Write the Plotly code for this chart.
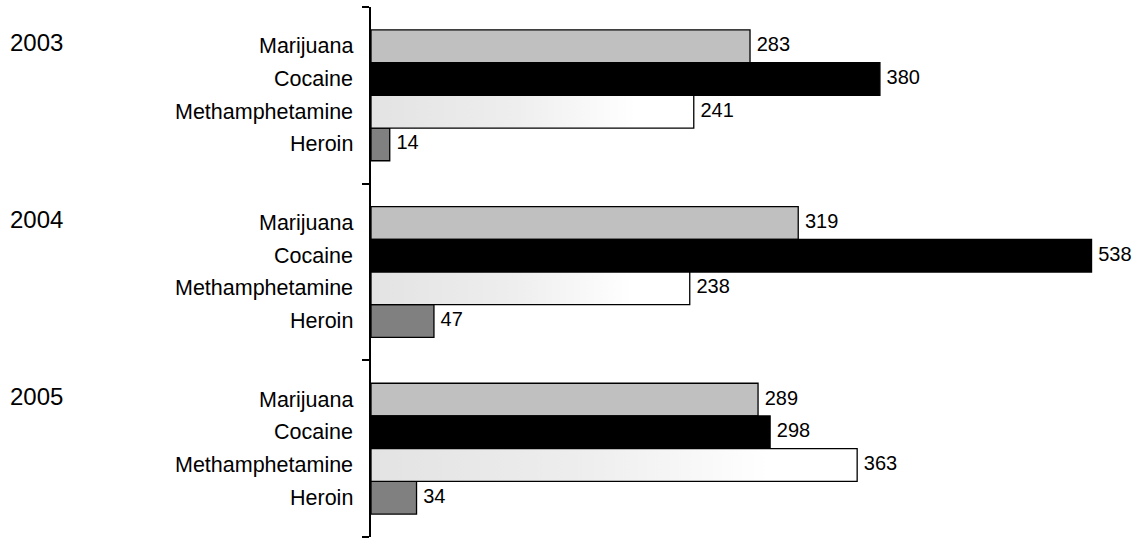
import plotly.graph_objects as go

years = ["2003", "2004", "2005"]
drugs = ["Marijuana", "Cocaine", "Methamphetamine", "Heroin"]
marijuana = [283, 319, 289]
cocaine = [380, 538, 298]
methamphetamine = [241, 238, 363]
heroin = [14, 47, 34]

series = [marijuana, cocaine, methamphetamine, heroin]
fills = ["#c0c0c0", "#000000", None, "#808080"]

G = 5.4  # group pitch in bar units
FONT = "Liberation Sans, Arial, sans-serif"

def pos(g, i):
    return g * G + (i - 1.5)

fig = go.Figure()

for i, (name, vals, col) in enumerate(zip(drugs, series, fills)):
    ys = [pos(g, i) for g in range(len(years))]
    if col is not None:
        fig.add_trace(go.Bar(
            orientation="h", x=vals, y=ys, width=1, base=0,
            marker=dict(color=col, line=dict(color="black", width=1.3)),
            name=name, showlegend=False, hoverinfo="x"))
    else:
        for g, v in enumerate(vals):
            y0 = pos(g, i) - 0.5
            y1 = pos(g, i) + 0.5
            fig.add_trace(go.Scatter(
                x=[0, v, v, 0, 0], y=[y0, y0, y1, y1, y0],
                mode="lines", fill="toself",
                fillgradient=dict(type="horizontal",
                                  colorscale=[[0, "#e3e3e3"], [0.45, "#eeeeee"],
                                              [0.82, "#ffffff"], [1, "#ffffff"]]),
                line=dict(color="black", width=1.3),
                showlegend=False, hoverinfo="skip"))

# value labels
for i, vals in enumerate(series):
    ys = [pos(g, i) for g in range(len(years))]
    fig.add_trace(go.Scatter(
        x=vals, y=ys, mode="text", text=["\u2004" + str(v) for v in vals],
        textposition="middle right", cliponaxis=False,
        textfont=dict(family=FONT, size=20, color="black"),
        showlegend=False, hoverinfo="skip"))

annotations = []
for g, yr in enumerate(years):
    annotations.append(dict(
        text=yr, xref="paper", x=0, xanchor="left", xshift=-363,
        yref="y", y=pos(g, 0) - 0.1, yanchor="middle", showarrow=False,
        font=dict(family=FONT, size=24, color="black")))
    for i, d in enumerate(drugs):
        annotations.append(dict(
            text=d, xref="paper", x=0, xanchor="right", xshift=-16,
            yref="y", y=pos(g, i), yanchor="middle", showarrow=False,
            font=dict(family=FONT, size=21.5, color="black")))

bounds = [(g - 0.5) * G for g in range(len(years) + 1)]

fig.update_layout(
    width=1138, height=541,
    margin=dict(l=371, r=17, t=7, b=4),
    plot_bgcolor="white", paper_bgcolor="white",
    barmode="overlay",
    showlegend=False,
    annotations=annotations,
    xaxis=dict(range=[0, 560], visible=False, fixedrange=True),
    yaxis=dict(range=[bounds[-1], bounds[0]], tickvals=bounds,
               showticklabels=False, ticks="outside", ticklen=7, tickwidth=1.5,
               tickcolor="black", showline=True, linecolor="black", linewidth=1.5,
               showgrid=False, zeroline=False, fixedrange=True),
)

fig.write_html("out.html", config={"displayModeBar": False},
               post_script="document.body.style.margin='0';")
